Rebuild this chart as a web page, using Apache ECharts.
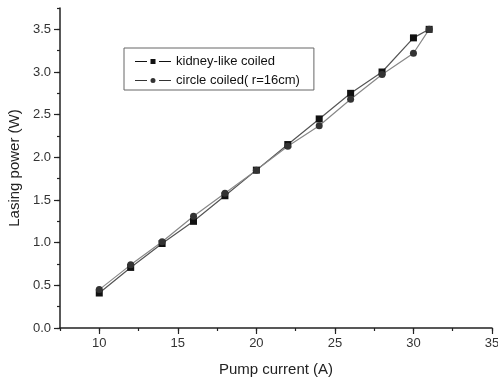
<!DOCTYPE html>
<html>
<head>
<meta charset="utf-8">
<script src="https://cdn.jsdelivr.net/npm/echarts@6/dist/echarts.min.js"></script>
<style>
  html, body { margin: 0; padding: 0; background: #fff; }
  #chart { width: 498px; height: 380px; }
</style>
</head>
<body>
<div id="chart"></div>
<script>
// pump current (A)
const current = [10, 12, 14, 16, 18, 20, 22, 24, 26, 28, 30, 31];
// lasing power (W)
const kidneyPower = [0.41, 0.71, 0.99, 1.25, 1.55, 1.85, 2.15, 2.45, 2.75, 3.0, 3.4, 3.5];
const circlePower = [0.45, 0.74, 1.01, 1.31, 1.58, 1.85, 2.13, 2.37, 2.68, 2.97, 3.22, 3.5];

const font = 'Liberation Sans, Arial, sans-serif';

// legend icons: "— ■ —" and "— ● —" with small gaps round the marker
const iconSquare = 'path://M0,2.5h12v1h-12z M15.5,0.5h5v5h-5z M24,2.5h12v1h-12z';
const iconCircle = 'path://M0,2.5h12v1h-12z M15.5,3a2.5,2.5 0 1,0 5,0a2.5,2.5 0 1,0 -5,0z M24,2.5h12v1h-12z';

const chart = echarts.init(document.getElementById('chart'), null, { renderer: 'canvas' });

const pairs = (ys) => current.map((x, i) => [x, ys[i]]);

const axisLine = { show: true, lineStyle: { color: '#222', width: 1.5 } };

const option = {
  backgroundColor: '#fff',
  animation: false,
  textStyle: { fontFamily: font },
  // grid 0 holds the data + minor ticks, grids 1/2 only carry the long major ticks
  grid: [
    { left: 60, right: 6, top: 8, bottom: 52, outerBoundsMode: 'none' },
    { left: 60, right: 6, top: 29.33, bottom: 52, outerBoundsMode: 'none' },
    { left: 99.27, right: 6, top: 8, bottom: 52, outerBoundsMode: 'none' },
  ],
  legend: {
    orient: 'vertical',
    left: 124,
    top: 48,
    width: 211,
    padding: [7, 14, 3, 11],
    itemGap: 6,
    itemWidth: 36,
    itemHeight: 6,
    borderColor: '#666',
    borderWidth: 1,
    textStyle: { fontFamily: font, fontSize: 13, color: '#111' },
    data: [
      { name: 'kidney-like coiled', icon: iconSquare },
      { name: 'circle coiled( r=16cm)', icon: iconCircle },
    ],
  },
  xAxis: [
    {
      gridIndex: 0,
      type: 'value',
      min: 7.5,
      max: 35,
      interval: 2.5,
      name: 'Pump current (A)',
      nameLocation: 'middle',
      nameGap: 34,
      nameTextStyle: { fontFamily: font, fontSize: 15, color: '#222' },
      axisLine: axisLine,
      axisTick: { show: true, inside: false, length: 3, lineStyle: { color: '#222', width: 1.2 } },
      axisLabel: {
        margin: 9,
        fontFamily: font,
        fontSize: 13,
        color: '#333',
        formatter: (v) => (v % 5 === 0 ? String(v) : ''),
      },
      splitLine: { show: false },
    },
    { gridIndex: 1, type: 'value', min: 0, max: 1, show: false },
    {
      gridIndex: 2,
      type: 'value',
      min: 10,
      max: 35,
      interval: 5,
      axisLine: { show: false },
      axisTick: { show: true, inside: false, length: 6, lineStyle: { color: '#222', width: 1.2 } },
      axisLabel: { show: false },
      splitLine: { show: false },
    },
  ],
  yAxis: [
    {
      gridIndex: 0,
      type: 'value',
      min: 0,
      max: 3.75,
      interval: 0.25,
      name: 'Lasing power (W)',
      nameLocation: 'middle',
      nameGap: 37,
      nameTextStyle: { fontFamily: font, fontSize: 15, color: '#222' },
      axisLine: axisLine,
      axisTick: { show: true, inside: false, length: 3, lineStyle: { color: '#222', width: 1.2 } },
      axisLabel: {
        margin: 9,
        fontFamily: font,
        fontSize: 13,
        color: '#333',
        formatter: (v) => (Math.abs(v * 2 - Math.round(v * 2)) < 1e-6 ? v.toFixed(1) : ''),
      },
      splitLine: { show: false },
    },
    {
      gridIndex: 1,
      type: 'value',
      min: 0,
      max: 3.5,
      interval: 0.5,
      axisLine: { show: false },
      axisTick: { show: true, inside: false, length: 6, lineStyle: { color: '#222', width: 1.2 } },
      axisLabel: { show: false },
      splitLine: { show: false },
    },
    { gridIndex: 2, type: 'value', min: 0, max: 1, show: false },
  ],
  series: [
    {
      name: 'kidney-like coiled',
      type: 'line',
      xAxisIndex: 0,
      yAxisIndex: 0,
      data: pairs(kidneyPower),
      symbol: 'rect',
      symbolSize: 7,
      lineStyle: { color: '#555', width: 1.2 },
      itemStyle: { color: '#111' },
    },
    {
      name: 'circle coiled( r=16cm)',
      type: 'line',
      xAxisIndex: 0,
      yAxisIndex: 0,
      data: pairs(circlePower),
      symbol: 'circle',
      symbolSize: 7,
      lineStyle: { color: '#888', width: 1.2 },
      itemStyle: { color: '#333' },
    },
  ],
};

chart.setOption(option);
</script>
</body>
</html>
